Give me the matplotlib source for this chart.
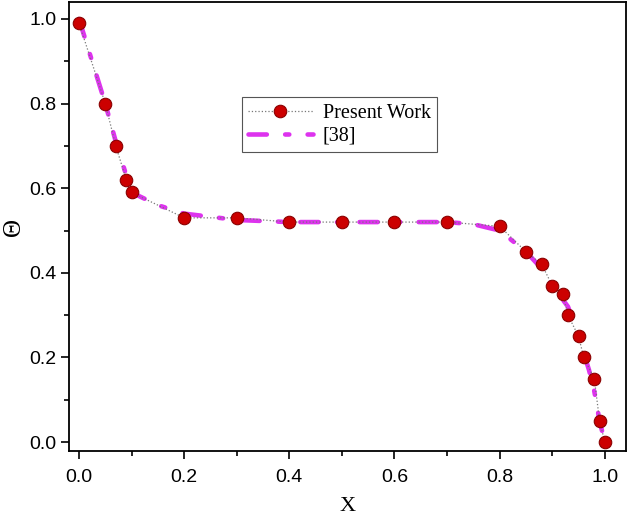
import matplotlib
matplotlib.use("Agg")
import matplotlib.pyplot as plt
from matplotlib.ticker import MultipleLocator, FormatStrFormatter

# Present Work (points)
x_present = [0.0, 0.05, 0.07, 0.09, 0.10, 0.20, 0.30, 0.40, 0.50, 0.60, 0.70, 0.80,
             0.85, 0.88, 0.90, 0.92, 0.93, 0.95, 0.96, 0.98, 0.99, 1.00]
y_present = [0.99, 0.80, 0.70, 0.62, 0.59, 0.53, 0.53, 0.52, 0.52, 0.52, 0.52, 0.51,
             0.45, 0.42, 0.37, 0.35, 0.30, 0.25, 0.20, 0.15, 0.05, 0.00]

# Reference [38]
x_ref = [0.0, 0.03, 0.05, 0.07, 0.09, 0.10, 0.15, 0.20, 0.30, 0.40, 0.50, 0.60, 0.70,
         0.75, 0.80, 0.85, 0.88, 0.90, 0.93, 0.95, 0.97, 0.98, 0.99, 1.00]
y_ref = [1.00, 0.88, 0.80, 0.71, 0.63, 0.59, 0.56, 0.54, 0.525, 0.52, 0.52, 0.52, 0.52,
         0.515, 0.50, 0.45, 0.41, 0.37, 0.32, 0.25, 0.17, 0.12, 0.05, 0.00]

fig = plt.figure(figsize=(6.29, 5.17), dpi=100)
ax = fig.add_axes([0.1097, 0.1277, 0.8853, 0.8683])

ax.plot(x_present, y_present, color="#777777", linestyle=":", linewidth=0.9,
        marker="o", markersize=9, markerfacecolor="#cc0000",
        markeredgecolor="#8a0000", markeredgewidth=0.8, label="Present Work", zorder=3)
ax.plot(x_ref, y_ref, color="#dd33ee", linewidth=3.3, linestyle=(0, (4.0, 4.0, 0.9, 4.0)),
        solid_capstyle="round", dash_capstyle="round", label="[38]", zorder=2)

ax.set_xlim(-0.019, 1.04)
ax.set_ylim(-0.021, 1.04)
ax.xaxis.set_major_locator(MultipleLocator(0.2))
ax.xaxis.set_minor_locator(MultipleLocator(0.1))
ax.yaxis.set_major_locator(MultipleLocator(0.2))
ax.yaxis.set_minor_locator(MultipleLocator(0.1))
ax.xaxis.set_major_formatter(FormatStrFormatter("%.1f"))
ax.yaxis.set_major_formatter(FormatStrFormatter("%.1f"))
ax.tick_params(which="major", direction="out", length=6, width=1.2,
               labelsize=14, top=False, right=False)
ax.tick_params(axis="x", which="major", pad=7)
ax.tick_params(axis="y", which="major", pad=3)
ax.tick_params(which="minor", direction="out", length=3.5, width=1.2, top=False, right=False)
for lab in ax.get_xticklabels() + ax.get_yticklabels():
    lab.set_fontfamily("Liberation Sans")
for sp in ax.spines.values():
    sp.set_linewidth(1.3)

ax.set_xlabel("X", fontfamily="Liberation Serif", fontsize=16, labelpad=8)
ax.set_ylabel("Θ", fontfamily="Liberation Serif", fontsize=18, labelpad=3)

leg = ax.legend(loc="upper left", bbox_to_anchor=(0.293, 0.81), fancybox=False,
                framealpha=1, edgecolor="#555555", handlelength=3.2,
                prop={"family": "Liberation Serif", "size": 14.5},
                borderpad=0.3, labelspacing=0.2, handletextpad=0.5)
leg.get_frame().set_linewidth(0.8)

fig.savefig("out.png", dpi=100)
